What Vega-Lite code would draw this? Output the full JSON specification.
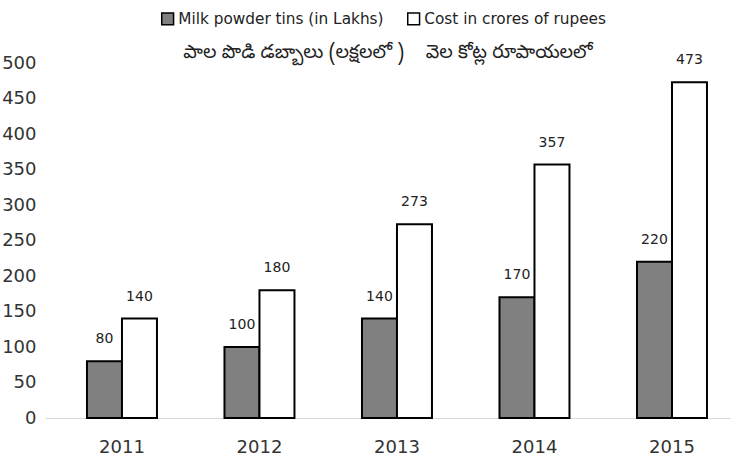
{
  "$schema": "https://vega.github.io/schema/vega-lite/v6.json",
  "autosize": {"type": "none"},
  "width": 686,
  "height": 355,
  "padding": {"left": 45, "top": 63, "right": 0, "bottom": 53},
  "background": "white",
  "config": {
    "view": {"stroke": null},
    "font": "DejaVu Sans, sans-serif"
  },
  "title": {
    "text": "పాల పొడి డబ్బాలు (లక్షలలో )\u00a0\u00a0\u00a0\u00a0వెల కోట్ల రూపాయలలో",
    "anchor": "middle",
    "frame": "group",
    "offset": 6,
    "dy": 72,
    "baseline": "alphabetic",
    "fontSize": 19,
    "fontWeight": "normal",
    "color": "#222222",
    "font": "Noto Sans Telugu, Noto Sans, sans-serif"
  },
  "data": {
    "values": [
      {"year": "2011", "series": "Milk powder tins (in Lakhs)", "value": 80},
      {"year": "2011", "series": "Cost in crores of rupees", "value": 140},
      {"year": "2012", "series": "Milk powder tins (in Lakhs)", "value": 100},
      {"year": "2012", "series": "Cost in crores of rupees", "value": 180},
      {"year": "2013", "series": "Milk powder tins (in Lakhs)", "value": 140},
      {"year": "2013", "series": "Cost in crores of rupees", "value": 273},
      {"year": "2014", "series": "Milk powder tins (in Lakhs)", "value": 170},
      {"year": "2014", "series": "Cost in crores of rupees", "value": 357},
      {"year": "2015", "series": "Milk powder tins (in Lakhs)", "value": 220},
      {"year": "2015", "series": "Cost in crores of rupees", "value": 473}
    ]
  },
  "encoding": {
    "x": {
      "field": "year",
      "type": "nominal",
      "scale": {"paddingInner": 0.491, "paddingOuter": 0.24, "align": 0.636},
      "axis": {
        "title": null,
        "labelAngle": 0,
        "ticks": false,
        "domainColor": "#d9d9d9",
        "domainWidth": 1,
        "labelPadding": 20,
        "labelFontSize": 18,
        "labelColor": "#333333"
      }
    },
    "xOffset": {
      "field": "series",
      "type": "nominal",
      "sort": ["Milk powder tins (in Lakhs)", "Cost in crores of rupees"],
      "scale": {"paddingInner": 0, "paddingOuter": 0}
    },
    "y": {
      "field": "value",
      "type": "quantitative",
      "scale": {"domain": [0, 500]},
      "axis": {
        "title": null,
        "values": [0, 50, 100, 150, 200, 250, 300, 350, 400, 450, 500],
        "grid": false,
        "domain": false,
        "ticks": false,
        "labelPadding": 9,
        "labelFontSize": 18,
        "labelColor": "#333333"
      }
    }
  },
  "layer": [
    {
      "mark": {"type": "bar", "stroke": "#000000", "strokeWidth": 2},
      "encoding": {
        "fill": {
          "field": "series",
          "type": "nominal",
          "sort": ["Milk powder tins (in Lakhs)", "Cost in crores of rupees"],
          "scale": {
            "domain": ["Milk powder tins (in Lakhs)", "Cost in crores of rupees"],
            "range": ["#808080", "#ffffff"]
          },
          "legend": {
            "title": null,
            "orient": "none",
            "direction": "horizontal",
            "legendX": 115,
            "legendY": -52,
            "symbolType": "square",
            "symbolSize": 140,
            "symbolStrokeColor": "#000000",
            "symbolStrokeWidth": 1.5,
            "labelFontSize": 15.3,
            "labelColor": "#222222",
            "labelLimit": 300,
            "columnPadding": 20,
            "labelOffset": 3
          }
        }
      }
    },
    {
      "mark": {"type": "text", "baseline": "alphabetic", "dy": -18, "fontSize": 14, "color": "#222222"},
      "encoding": {
        "text": {"field": "value", "type": "quantitative"}
      }
    }
  ]
}
